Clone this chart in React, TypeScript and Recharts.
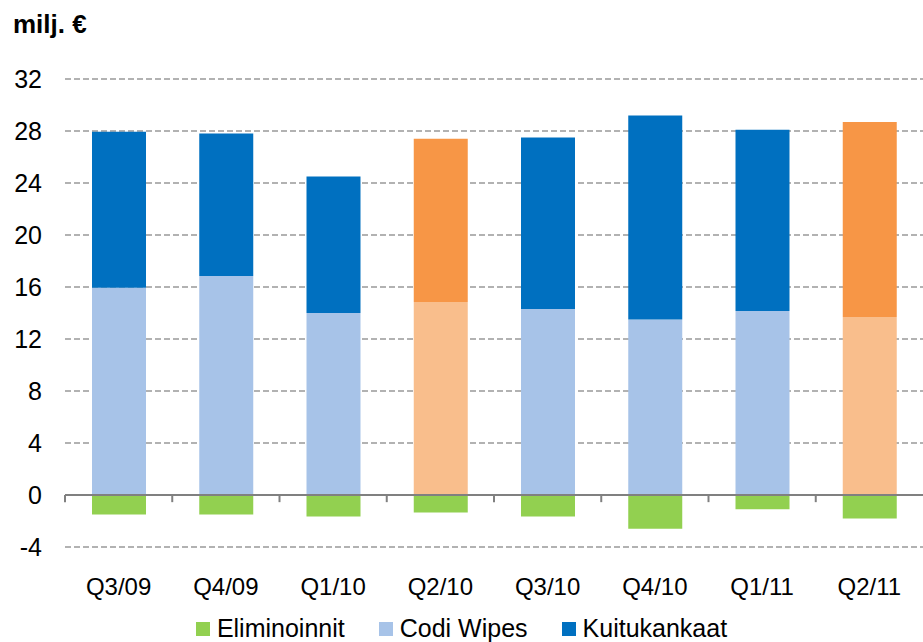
import {
  BarChart,
  Bar,
  Cell,
  XAxis,
  YAxis,
  CartesianGrid,
  ReferenceLine,
  Legend,
} from "recharts";

const quarters = ["Q3/09", "Q4/09", "Q1/10", "Q2/10", "Q3/10", "Q4/10", "Q1/11", "Q2/11"];
const eliminoinnit = [-1.5, -1.5, -1.65, -1.35, -1.65, -2.6, -1.1, -1.8];
const codiWipes = [15.95, 16.85, 14.0, 14.85, 14.3, 13.5, 14.15, 13.7];
const kuitukankaat = [12.0, 10.95, 10.5, 12.55, 13.2, 15.7, 13.95, 15.0];
const highlighted = ["Q2/10", "Q2/11"];
const yTicks = [-4, 0, 4, 8, 12, 16, 20, 24, 28, 32];

const series = [
  { key: "elim", name: "Eliminoinnit", color: "#92D050", hiColor: "#92D050" },
  { key: "codi", name: "Codi Wipes", color: "#A7C3E8", hiColor: "#F9BE8C" },
  { key: "kuitu", name: "Kuitukankaat", color: "#0070C0", hiColor: "#F79646" },
];

const data = quarters.map((q, i) => ({
  q,
  elim: eliminoinnit[i],
  codi: codiWipes[i],
  kuitu: kuitukankaat[i],
}));

const FONT = "'Liberation Sans', Arial, sans-serif";

function LegendBox() {
  return (
    <div
      style={{
        display: "flex",
        justifyContent: "center",
        alignItems: "center",
        height: 35,
        paddingTop: 8,
        boxSizing: "border-box",
        fontFamily: FONT,
        fontSize: 25,
        color: "#000",
      }}
    >
      {series.map((s) => (
        <div key={s.key} style={{ display: "flex", alignItems: "center", margin: "0 17px" }}>
          <span
            style={{
              display: "inline-block",
              width: 14,
              height: 14,
              background: s.color,
              marginRight: 7,
            }}
          />
          <span>{s.name}</span>
        </div>
      ))}
    </div>
  );
}

export default function App() {
  return (
    <div style={{ position: "relative", width: 923, height: 642, fontFamily: FONT }}>
      <style>{"body{margin:0;overflow:hidden}"}</style>
      <div
        style={{
          position: "absolute",
          left: 13,
          top: 9,
          fontSize: 26,
          fontWeight: "bold",
          color: "#000",
          zIndex: 2,
        }}
      >
        milj. €
      </div>
      <BarChart
        width={923}
        height={642}
        data={data}
        stackOffset="sign"
        barSize={54}
        margin={{ top: 79, right: 0, left: 0, bottom: 0 }}
      >
        <CartesianGrid
          vertical={false}
          stroke="#999999"
          strokeDasharray="6 3"
          strokeWidth={1.5}
        />
        <XAxis
          dataKey="q"
          axisLine={false}
          tickLine={false}
          tickSize={0}
          tickMargin={31}
          height={60}
          interval={0}
          tick={{ fontSize: 24, fill: "#000", fontFamily: FONT }}
        />
        <YAxis
          width={65}
          domain={[-4, 32]}
          ticks={yTicks}
          axisLine={false}
          tickLine={false}
          tickSize={0}
          tickMargin={23}
          tick={{ fontSize: 25, fill: "#000", fontFamily: FONT }}
        />
        {series.map((s) => (
          <Bar
            key={s.key}
            dataKey={s.key}
            name={s.name}
            stackId="a"
            fill={s.color}
            isAnimationActive={false}
          >
            {data.map((d) => (
              <Cell key={d.q} fill={highlighted.includes(d.q) ? s.hiColor : s.color} />
            ))}
          </Bar>
        ))}
        <ReferenceLine y={0} stroke="#808080" strokeWidth={2} />
        {quarters.map((q) => (
          <ReferenceLine
            key={q}
            position="start"
            segment={[
              { x: q, y: 0 },
              { x: q, y: -0.55 },
            ]}
            stroke="#808080"
            strokeWidth={2}
          />
        ))}
        <Legend verticalAlign="bottom" height={35} content={() => <LegendBox />} />
      </BarChart>
    </div>
  );
}
